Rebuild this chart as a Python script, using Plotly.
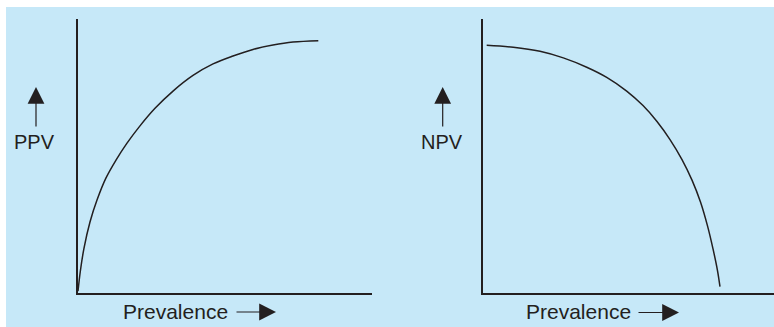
import plotly.graph_objects as go

W, H = 774, 327

# curve values (prevalence 0-100 along each axis, value 0-100 up the axis)
ppv_prev = [0.17, 1.02, 2.21, 4.24, 6.62, 9.68, 13.07, 16.81, 21.22, 26.32, 32.43, 39.22, 46.01, 52.80, 59.59, 66.38, 73.17, 81.77]
ppv_val = [0.7, 8.4, 16.4, 25.9, 33.9, 42.0, 48.5, 54.7, 61.0, 67.4, 73.7, 79.4, 83.6, 86.5, 88.9, 90.5, 91.6, 92.1]

npv_prev = [1.15, 10.19, 19.25, 27.16, 35.11, 41.90, 48.69, 54.23, 58.98, 63.40, 67.47, 70.87, 73.75, 76.13, 78.00, 79.52, 80.37]
npv_val = [90.4, 89.7, 88.2, 85.8, 82.4, 78.7, 73.7, 68.4, 62.6, 56.0, 48.7, 41.2, 33.2, 24.5, 16.1, 8.2, 2.3]

ink = '#231f20'
bg = '#c6e8f8'

def px(x):
    return x / W
def py(y):
    return 1 - y / H

fig = go.Figure()
fig.add_trace(go.Scatter(x=ppv_prev, y=ppv_val, mode='lines', line=dict(color=ink, width=1.5, shape='spline', smoothing=1),
                         xaxis='x', yaxis='y', showlegend=False, hoverinfo='skip'))
fig.add_trace(go.Scatter(x=npv_prev, y=npv_val, mode='lines', line=dict(color=ink, width=1.5, shape='spline', smoothing=1),
                         xaxis='x2', yaxis='y2', showlegend=False, hoverinfo='skip'))

ax_style = dict(showgrid=False, zeroline=False, showticklabels=False, ticks='', showline=True,
                linecolor=ink, linewidth=1.5, fixedrange=True)
fig.update_layout(
    width=W, height=H, margin=dict(l=0, r=0, t=0, b=0),
    paper_bgcolor='white', plot_bgcolor='rgba(0,0,0,0)',
    font=dict(family='Liberation Sans, Arial, sans-serif', color=ink),
    xaxis=dict(domain=[px(77.5), px(372)], range=[0, 100], **ax_style),
    yaxis=dict(domain=[py(293), py(19)], range=[0, 100], **ax_style),
    xaxis2=dict(domain=[px(483.3), 1], range=[0, (W - 483.3) / 294.5 * 100], anchor='y2', **ax_style),
    yaxis2=dict(domain=[py(293), py(19)], range=[0, 100], anchor='x2', **ax_style),
    shapes=[dict(type='rect', xref='paper', yref='paper', x0=px(6), x1=1, y0=0, y1=py(7),
                 fillcolor=bg, line=dict(width=0), layer='below')],
)

def label(text, x, y, size):
    fig.add_annotation(text=text, xref='paper', yref='paper', x=px(x), y=py(y), showarrow=False,
                       xanchor='center', yanchor='middle', font=dict(size=size, color=ink))

def arrow(x, y, dx, dy):
    fig.add_annotation(text='', xref='paper', yref='paper', x=px(x), y=py(y), ax=dx, ay=dy,
                       showarrow=True, arrowhead=2, arrowsize=2.8, arrowwidth=1.2, arrowcolor=ink)

label('PPV', 34, 142, 20)
label('NPV', 441.8, 142, 20)
label('Prevalence', 175.5, 311, 21)
label('Prevalence', 578.3, 311, 21)
arrow(36, 87, 0, 41)
arrow(442.7, 87, 0, 41)
arrow(276, 312, -41, 0)
arrow(679, 312.5, -42, 0)

# page body has an 8px margin by default, drop it so the figure sits at the window corner
fig.write_html('out.html', config={'displayModeBar': False},
               post_script="document.body.style.margin='0px';")
